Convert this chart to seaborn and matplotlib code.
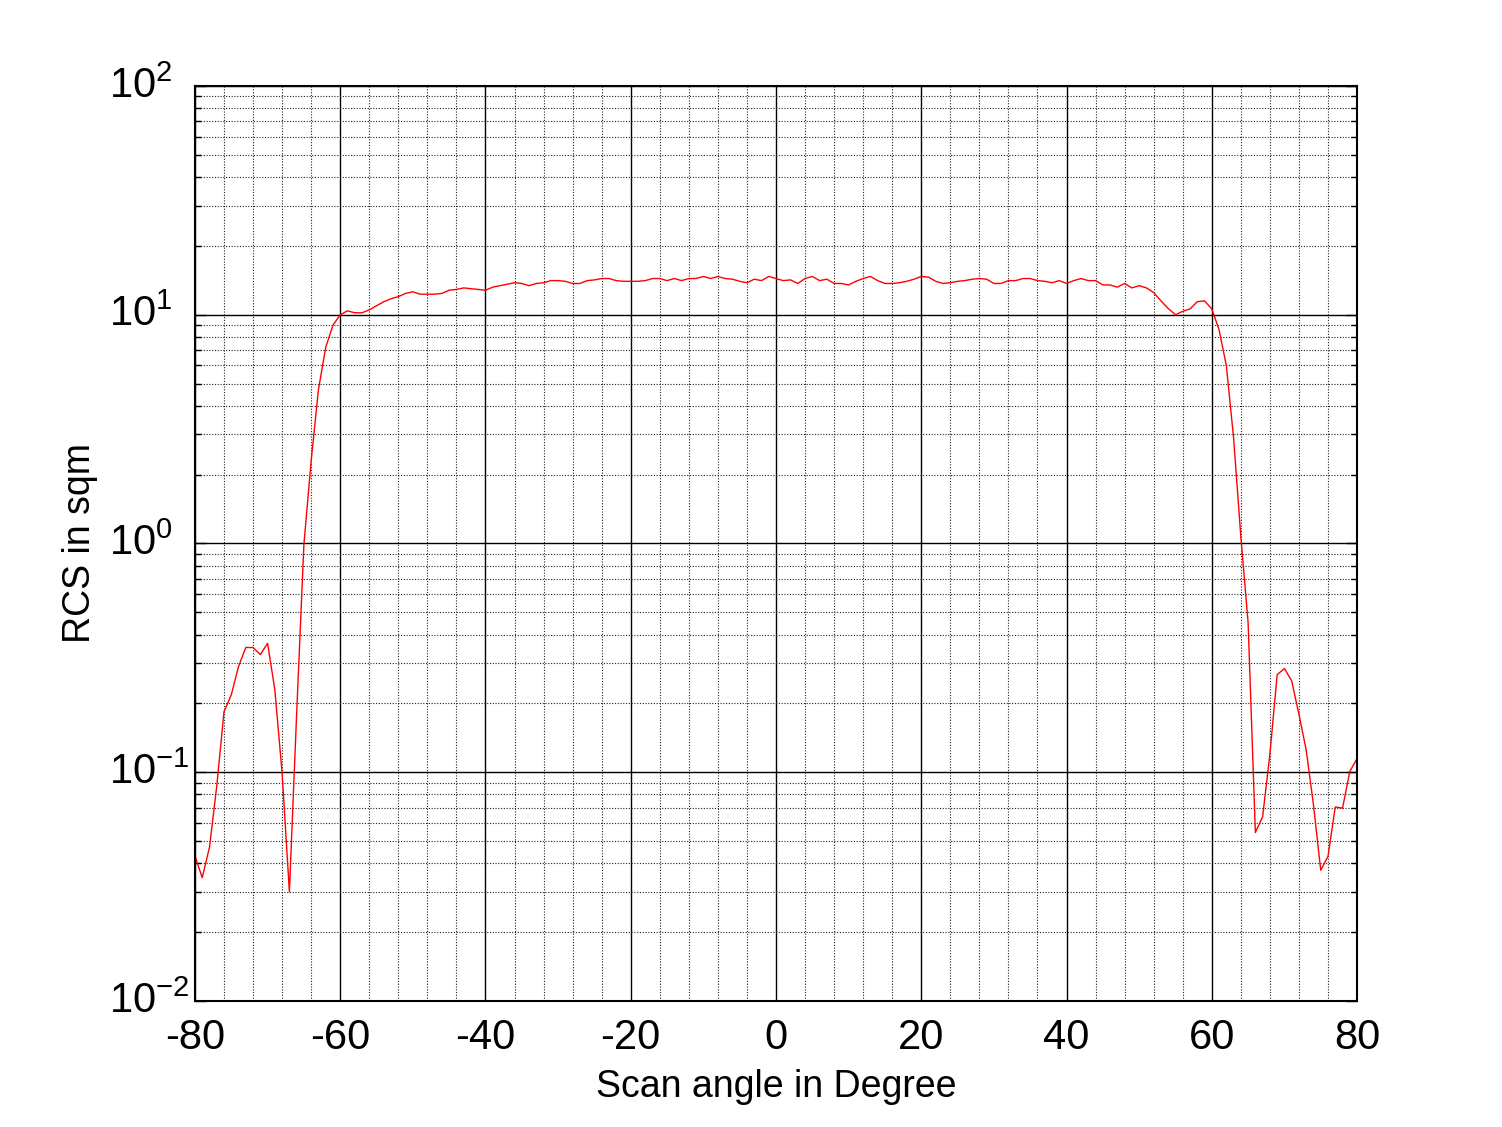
import matplotlib
matplotlib.use("Agg")
import matplotlib.pyplot as plt
import matplotlib.transforms as mtransforms
import seaborn as sns
import pandas as pd
from matplotlib.ticker import MultipleLocator, LogLocator, NullFormatter

# ---- data ----
angles = list(range(-80, 81))
rcs = [
    0.043, 0.0346, 0.047, 0.087, 0.184, 0.218, 0.29, 0.351, 0.351, 0.327,   # -80..-71
    0.366, 0.229, 0.099, 0.030, 0.18, 0.99, 2.3, 4.7, 7.2, 9.0,              # -70..-61
    10.0, 10.4, 10.2, 10.2, 10.5, 10.95, 11.4, 11.75, 12.0, 12.4,            # -60..-51
    12.6, 12.3, 12.3, 12.3, 12.4, 12.8, 12.9, 13.1, 13.0, 12.9,              # -50..-41
    12.8, 13.2, 13.4, 13.6, 13.8, 13.7, 13.4, 13.7, 13.8, 14.1,              # -40..-31
    14.1, 14.0, 13.7, 13.7, 14.1, 14.2, 14.4, 14.4, 14.1, 14.0,              # -30..-21
    14.0, 14.0, 14.1, 14.4, 14.4, 14.1, 14.4, 14.1, 14.4, 14.4,              # -20..-11
    14.7, 14.4, 14.7, 14.4, 14.3, 14.0, 13.8, 14.3, 14.1, 14.7,              # -10..-1
    14.4, 14.1, 14.2, 13.7, 14.4, 14.7, 14.1, 14.3, 13.7, 13.7,              # 0..9
    13.5, 14.0, 14.4, 14.7, 14.1, 13.7, 13.7, 13.8, 14.0, 14.3,              # 10..19
    14.7, 14.6, 14.0, 13.7, 13.8, 14.0, 14.1, 14.3, 14.4, 14.3,              # 20..29
    13.7, 13.7, 14.1, 14.1, 14.4, 14.4, 14.1, 14.0, 13.8, 14.1,              # 30..39
    13.7, 14.1, 14.4, 14.1, 14.1, 13.5, 13.5, 13.2, 13.7, 13.1,              # 40..49
    13.4, 13.1, 12.5, 11.5, 10.65, 10.0, 10.35, 10.6, 11.4, 11.5,            # 50..59
    10.6, 8.6, 6.0, 2.9, 1.07, 0.45, 0.0545, 0.064, 0.12, 0.267,             # 60..69
    0.284, 0.251, 0.179, 0.125, 0.072, 0.0373, 0.0429, 0.0705, 0.0697, 0.1007,  # 70..79
    0.115,                                                                   # 80
]
x_ticks = [-80, -60, -40, -20, 0, 20, 40, 60, 80]
y_ticks = [1e-2, 1e-1, 1e0, 1e1, 1e2]
y_tick_labels = ["$10^{-2}$", "$10^{-1}$", "$10^{0}$", "$10^{1}$", "$10^{2}$"]
x_label = "Scan angle in Degree"
y_label = "RCS in sqm"

df = pd.DataFrame({"angle": angles, "rcs": rcs})

sns.set_style("white")
plt.rcParams["font.family"] = ["Liberation Sans", "DejaVu Sans"]
plt.rcParams["mathtext.default"] = "regular"
plt.rcParams["text.color"] = "black"
plt.rcParams["axes.labelcolor"] = "black"
plt.rcParams["xtick.color"] = "black"
plt.rcParams["ytick.color"] = "black"

fig = plt.figure(figsize=(15.02, 11.27), dpi=100)
ax = fig.add_axes([0.1298, 0.1118, 0.7737, 0.8119])

sns.lineplot(data=df, x="angle", y="rcs", color="#ff0000", lw=1.0, ax=ax)

ax.set_yscale("log")
ax.set_xlim(-80, 80)
ax.set_ylim(1e-2, 1e2)

ax.set_xticks(x_ticks)
ax.set_xticklabels([str(v) for v in x_ticks])
ax.xaxis.set_minor_locator(MultipleLocator(4))
ax.set_yticks(y_ticks)
ax.set_yticklabels(y_tick_labels)
ax.yaxis.set_minor_locator(LogLocator(base=10, subs=range(2, 10), numticks=20))
ax.yaxis.set_minor_formatter(NullFormatter())

ax.grid(which="major", color="black", lw=1.0, ls="-")
ax.grid(which="minor", color="#222222", lw=0.8, ls=(0, (1, 1.5)))
ax.set_axisbelow(True)

ax.tick_params(axis="both", which="major", labelsize=30, direction="in",
               length=8, width=1, colors="black", left=True, right=True, bottom=False, top=False)
ax.tick_params(axis="both", which="minor", direction="in", length=4, width=1,
               left=True, right=True, bottom=False, top=False)
ax.tick_params(axis="x", which="major", pad=12)
ax.tick_params(axis="y", which="major", pad=62)
shift_up = mtransforms.ScaledTranslation(0, 3 / 72, fig.dpi_scale_trans)
for lbl in ax.get_yticklabels():
    lbl.set_horizontalalignment("left")
    lbl.set_transform(lbl.get_transform() + shift_up)

for s in ax.spines.values():
    s.set_color("black")
    s.set_linewidth(1.5)

ax.set_xlabel(x_label, fontsize=27, labelpad=8, color="black")
ax.set_ylabel(y_label, fontsize=27, labelpad=8, color="black")

fig.savefig("out.png", dpi=100, facecolor="white")
